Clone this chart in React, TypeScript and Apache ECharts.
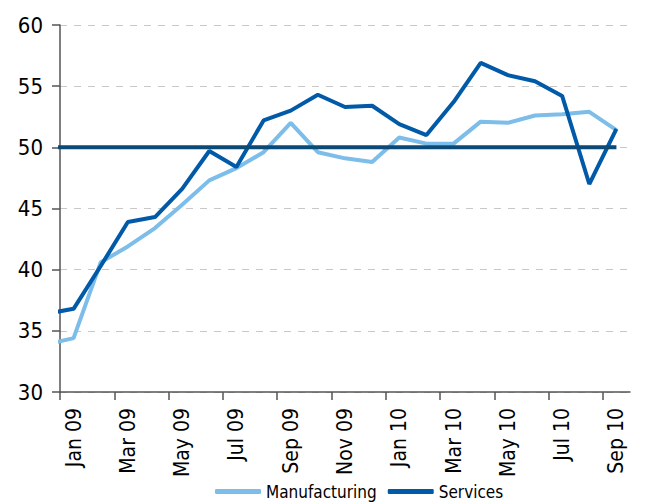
import React, { useEffect, useRef } from "react";
import * as echarts from "echarts";

// Month labels shown on the axis (Jan 09 .. Sep 10)
const months = [
  "Jan 09", "Feb 09", "Mar 09", "Apr 09", "May 09", "Jun 09", "Jul 09", "Aug 09",
  "Sep 09", "Oct 09", "Nov 09", "Dec 09", "Jan 10", "Feb 10", "Mar 10", "Apr 10",
  "May 10", "Jun 10", "Jul 10", "Aug 10", "Sep 10",
];

// Series values start one month earlier (Dec 08), which is clipped at the axis edge
const manufacturing = [
  33.9, 34.4, 40.6, 41.9, 43.4, 45.3, 47.3, 48.3, 49.6, 52.0, 49.6, 49.1, 48.8,
  50.8, 50.3, 50.3, 52.1, 52.0, 52.6, 52.7, 52.9, 51.4,
];
const services = [
  36.4, 36.8, 40.3, 43.9, 44.3, 46.6, 49.7, 48.4, 52.2, 53.0, 54.3, 53.3, 53.4,
  51.9, 51.0, 53.7, 56.9, 55.9, 55.4, 54.2, 47.0, 51.5,
];
const threshold = [
  50, 50, 50, 50, 50, 50, 50, 50, 50, 50, 50, 50, 50, 50, 50, 50, 50, 50, 50, 50, 50, 50,
];

const yTicks = { min: 30, max: 60, interval: 5 };

const FONT = "'DejaVu Sans Condensed', 'Liberation Sans Narrow', 'Liberation Sans', sans-serif";

const toPairs = (arr: number[]) => arr.map((v, i) => [i - 0.5, v]);
const tickPositions = months.map((_, i) => i).filter((i) => i % 2 === 0);

export default function App() {
  const ref = useRef<HTMLDivElement>(null);
  useEffect(() => {
    if (!ref.current) return;
    const chart = echarts.init(ref.current, null, { renderer: "svg" });
    chart.setOption({
      animation: false,
      backgroundColor: "#ffffff",
      textStyle: { fontFamily: FONT },
      grid: { left: 60, top: 25, right: 27, bottom: 112, containLabel: false },
      legend: {
        left: 210,
        top: 478,
        itemWidth: 46,
        itemHeight: 5,
        itemGap: 11,
        icon: "roundRect",
        data: ["Manufacturing", "Services"],
        textStyle: { fontFamily: FONT, fontSize: 17, color: "#000" },
      },
      xAxis: [
        {
          type: "category",
          data: months,
          boundaryGap: true,
          axisLine: { show: true, lineStyle: { color: "#555", width: 1.5 } },
          axisTick: { show: false },
          axisLabel: {
            interval: 1,
            rotate: 90,
            margin: 16,
            fontSize: 21,
            color: "#000",
            fontFamily: FONT,
          },
          splitLine: { show: false },
        },
        {
          type: "value",
          show: true,
          position: "bottom",
          min: 0,
          max: months.length,
          axisLine: { show: false },
          axisLabel: { show: false },
          axisTick: {
            show: true,
            customValues: tickPositions,
            length: 8,
            lineStyle: { color: "#555", width: 1.5 },
          },
          splitLine: { show: false },
        },
      ],
      yAxis: {
        type: "value",
        min: yTicks.min,
        max: yTicks.max,
        interval: yTicks.interval,
        axisLine: { show: true, lineStyle: { color: "#555", width: 1.5 } },
        axisTick: { show: true, length: 8, lineStyle: { color: "#555", width: 1.5 } },
        axisLabel: { fontSize: 22, color: "#000", margin: 17, fontFamily: FONT },
        splitLine: { show: true, lineStyle: { color: "#c8c8c8", width: 1, type: [7, 7] } },
      },
      series: [
        {
          name: "Manufacturing",
          type: "line",
          xAxisIndex: 1,
          data: toPairs(manufacturing),
          showSymbol: false,
          symbol: "none",
          clip: true,
          color: "#7dbde9",
          lineStyle: { width: 4, color: "#7dbde9" },
          z: 3,
        },
        {
          name: "Services",
          type: "line",
          xAxisIndex: 1,
          data: toPairs(services),
          showSymbol: false,
          symbol: "none",
          clip: true,
          color: "#005aa8",
          lineStyle: { width: 4, color: "#005aa8" },
          z: 4,
        },
        {
          name: "Threshold",
          type: "line",
          xAxisIndex: 1,
          data: toPairs(threshold),
          showSymbol: false,
          symbol: "none",
          clip: true,
          color: "#0b4a76",
          lineStyle: { width: 4, color: "#0b4a76" },
          z: 5,
        },
      ],
    });
    return () => chart.dispose();
  }, []);
  return (
    <div
      ref={ref}
      style={{ position: "fixed", left: 0, top: 0, width: 657, height: 504 }}
    />
  );
}
